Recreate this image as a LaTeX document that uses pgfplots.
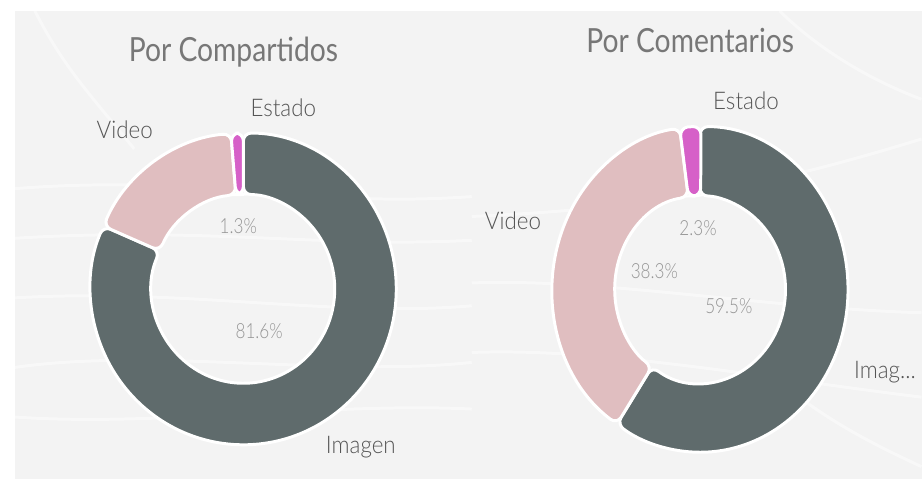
\documentclass[border=0pt]{standalone}
\usepackage{pgfplots}
\pgfplotsset{compat=1.18}
\usepackage{pgfplotstable}
\usepackage{fontspec}
\setmainfont{Lato}
\newfontfamily\titlefont[FakeStretch=0.85]{Lato}
\newfontfamily\labfont[FakeStretch=0.92]{Lato Light}
\newfontfamily\pctfont[FakeStretch=0.82]{Lato Light}

\definecolor{bg}{HTML}{F3F3F3}
\definecolor{slice0}{HTML}{5F6B6C}
\definecolor{slice1}{HTML}{E0BEC0}
\definecolor{slice2}{HTML}{D660C8}
\definecolor{titlec}{HTML}{777777}
\definecolor{labc}{HTML}{555555}
\definecolor{pctc}{HTML}{959595}

% values in percent
\pgfplotstableread{
label value
Imagen 81.6
Video 17.1
Estado 1.3
}\compartidos
\pgfplotstableread{
label value
Imagen 59.5
Video 38.3
Estado 2.3
}\comentarios

\newcommand{\computeangles}[2]{%
  \gdef\cum{0}%
  \pgfplotsforeachungrouped \i in {0,1,2}{%
    \pgfplotstablegetelem{\i}{value}\of{#1}%
    \pgfmathsetmacro\astart{90-3.6*\cum}%
    \pgfmathsetmacro\newcum{\cum+\pgfplotsretval}%
    \xdef\cum{\newcum}%
    \pgfmathsetmacro\aend{90-3.6*\cum}%
    \expandafter\xdef\csname #2s\i\endcsname{\astart}%
    \expandafter\xdef\csname #2e\i\endcsname{\aend}%
  }%
}

% cx cy Rx Ry rx ry a1 a2 color
\newcommand{\sector}[9]{%
  \fill[#9, draw=white, line width=3pt, rounded corners=8pt]
    (axis cs:{#1+#3*cos(#7)},{#2+#4*sin(#7)})
    arc[start angle=#7, end angle=#8, x radius=#3pt, y radius=#4pt]
    -- (axis cs:{#1+#5*cos(#8)},{#2+#6*sin(#8)})
    arc[start angle=#8, end angle=#7, x radius=#5pt, y radius=#6pt]
    -- cycle;
}

\begin{document}
\computeangles{\compartidos}{L}
\computeangles{\comentarios}{R}
\begin{tikzpicture}
\begin{axis}[
  x=1pt, y=1pt,
  xmin=0, xmax=923, ymin=0, ymax=490,
  hide axis, clip=false,
  scale only axis,
]
% background
\fill[white] (axis cs:0,0) rectangle (axis cs:923,490);
\fill[bg] (axis cs:10,8) rectangle (axis cs:923,479);
% subtle background waves
\begin{scope}[white, line width=3pt, opacity=0.45]
\draw (axis cs:10,300) .. controls (axis cs:200,315) and (axis cs:300,280) .. (axis cs:470,292);
\draw (axis cs:10,250) .. controls (axis cs:200,262) and (axis cs:320,240) .. (axis cs:470,248);
\draw (axis cs:10,190) .. controls (axis cs:180,200) and (axis cs:330,170) .. (axis cs:470,182);
\draw (axis cs:10,120) .. controls (axis cs:150,140) and (axis cs:330,110) .. (axis cs:470,125);
\draw (axis cs:10,70) .. controls (axis cs:150,60) and (axis cs:330,85) .. (axis cs:470,78);
\draw (axis cs:30,479) .. controls (axis cs:60,420) and (axis cs:90,390) .. (axis cs:130,340);
\draw (axis cs:470,272) .. controls (axis cs:650,280) and (axis cs:760,300) .. (axis cs:923,350);
\draw (axis cs:470,205) .. controls (axis cs:600,210) and (axis cs:760,180) .. (axis cs:923,175);
\draw (axis cs:470,135) .. controls (axis cs:600,140) and (axis cs:760,110) .. (axis cs:923,90);
\draw (axis cs:800,90) .. controls (axis cs:840,60) and (axis cs:880,40) .. (axis cs:923,20);
\draw (axis cs:780,479) .. controls (axis cs:820,440) and (axis cs:870,410) .. (axis cs:923,390);
\end{scope}

% left donut: Por Compartidos
\pgfplotsinvokeforeach{0,1,2}{%
  \sector{240}{199}{154}{157}{92}{95}{\csname Ls#1\endcsname}{\csname Le#1\endcsname}{slice#1}
}
% right donut: Por Comentarios
\pgfplotsinvokeforeach{0,1,2}{%
  \sector{700}{198.5}{149}{164}{86}{94}{\csname Rs#1\endcsname}{\csname Re#1\endcsname}{slice#1}
}

% titles
\node[anchor=base, inner sep=0, text=titlec, font=\titlefont\fontsize{33.5}{40}\selectfont] at (axis cs:230,428) {Por Compartidos};
\node[anchor=base, inner sep=0, text=titlec, font=\titlefont\fontsize{33.5}{40}\selectfont] at (axis cs:690,437) {Por Comentarios};

% category labels
\tikzset{lab/.style={anchor=base west, inner sep=0, text=labc, font=\labfont\fontsize{24.5}{28}\selectfont},
         pct/.style={anchor=base west, inner sep=0, text=pctc, font=\pctfont\fontsize{21}{24}\selectfont}}
\node[lab] at (axis cs:247,373) {Estado};
\node[lab] at (axis cs:92,350) {Video};
\node[lab] at (axis cs:323,33) {Imagen};
\node[pct] at (axis cs:216,255) {1.3\%};
\node[pct] at (axis cs:232,149) {81.6\%};

\node[lab] at (axis cs:713,380) {Estado};
\node[lab] at (axis cs:483,259) {Video};
\node[lab] at (axis cs:855,109) {Imag...};
\node[pct] at (axis cs:679,253) {2.3\%};
\node[pct] at (axis cs:630,209) {38.3\%};
\node[pct] at (axis cs:705,174) {59.5\%};
\end{axis}
\end{tikzpicture}
\end{document}
